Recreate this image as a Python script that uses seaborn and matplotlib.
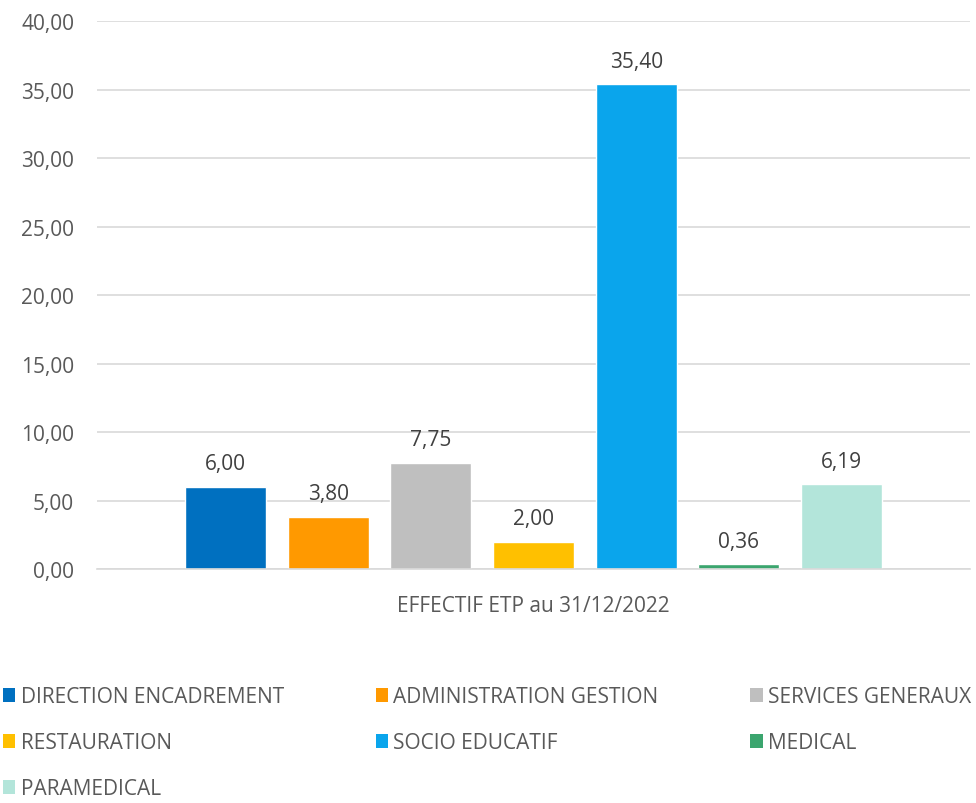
import matplotlib
matplotlib.use("Agg")
import matplotlib.pyplot as plt
from matplotlib.patches import Patch
import seaborn as sns
import pandas as pd

# données
categorie = "EFFECTIF ETP au 31/12/2022"
services = [
    "DIRECTION ENCADREMENT",
    "ADMINISTRATION GESTION",
    "SERVICES GENERAUX",
    "RESTAURATION",
    "SOCIO EDUCATIF",
    "MEDICAL",
    "PARAMEDICAL",
]
etp = [6.00, 3.80, 7.75, 2.00, 35.40, 0.36, 6.19]
couleurs = ["#0070C0", "#FF9900", "#BFBFBF", "#FFC000", "#0AA5EC", "#3BA56E", "#B3E5DA"]

df = pd.DataFrame({"categorie": [categorie] * len(services), "service": services, "etp": etp})

sns.set_theme(style="white")
plt.rcParams["font.family"] = ["Open Sans", "DejaVu Sans"]

fig = plt.figure(figsize=(9.76, 8.04), dpi=100)
ax = fig.add_axes([0.0994, 0.291, 0.8946, 0.6816])

sns.barplot(data=df, x="categorie", y="etp", hue="service", hue_order=services,
            palette=couleurs, width=0.823, gap=0.21, saturation=1, ax=ax, legend=False)

texte = "#595959"
for cont in ax.containers:
    ax.bar_label(cont, labels=[f"{v:.2f}".replace(".", ",") for v in cont.datavalues],
                 padding=9, fontsize=15, color="#404040")

ax.set_ylim(0, 40)
ax.set_yticks(range(0, 41, 5))
ax.set_yticklabels([f"{v},00" for v in range(0, 41, 5)])
ax.set_xlim(-0.5, 0.5)
ax.grid(axis="y", color="#D9D9D9", linewidth=1.2)
ax.set_axisbelow(True)
sns.despine(ax=ax, left=True)
ax.spines["bottom"].set_color("#D9D9D9")
ax.spines["bottom"].set_linewidth(1.2)
ax.tick_params(axis="y", length=0, pad=16.5, labelsize=15, labelcolor=texte)
ax.tick_params(axis="x", length=0, pad=19, labelsize=15, labelcolor=texte)
ax.set_xlabel("")
ax.set_ylabel("")

# légende en 3 colonnes, ordre ligne par ligne
handles = [Patch(facecolor=c, edgecolor="none") for c in couleurs]
ordre = [0, 3, 6, 1, 4, 2, 5]
fig.legend([handles[i] for i in ordre], [services[i] for i in ordre],
           ncol=3, loc="upper left", bbox_to_anchor=(0.003, 0.145), frameon=False,
           fontsize=15, labelcolor=texte, handlelength=0.6, handleheight=0.6,
           handletextpad=0.25, columnspacing=4.4, labelspacing=1.2, borderaxespad=0,
           borderpad=0)

fig.savefig("out.png", dpi=100)
